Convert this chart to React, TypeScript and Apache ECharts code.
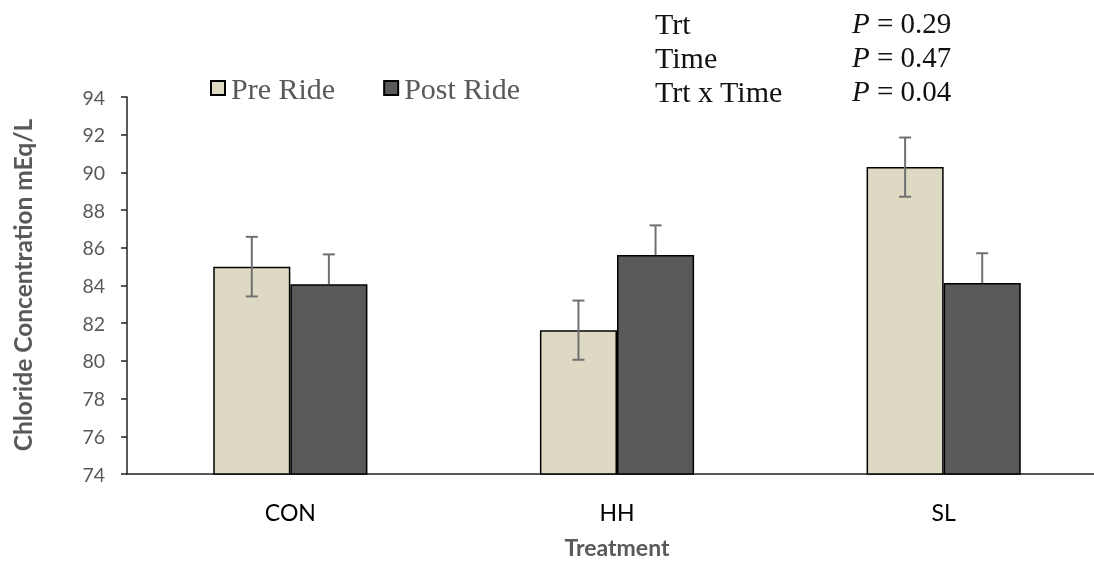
import React, { useEffect, useRef } from "react";
import * as echarts from "echarts";

const categories = ["CON", "HH", "SL"];
const preRide = [85.0, 81.63, 90.28];
const postRide = [84.07, 85.62, 84.13];
const preSE = [1.58, 1.57, 1.57];
const postSE = [1.58, 1.57, 1.58];
const statLabels = ["Trt", "Time", "Trt x Time"];
const statValues = ["0.29", "0.47", "0.04"];

const BAR_FRAC = 0.236;

export default function App() {
  const ref = useRef<HTMLDivElement>(null);
  useEffect(() => {
    if (!ref.current) return;
    const chart = echarts.init(ref.current, null, { renderer: "svg" });

    const errSeries = (vals: number[], se: number[], side: number, plusOnly: boolean, name: string) => ({
      type: "custom",
      name,
      z: 10,
      silent: true,
      data: vals.map((v, i) => [i, v, se[i]]),
      renderItem: (params: any, api: any) => {
        const idx = api.value(0);
        const v = api.value(1);
        const e = api.value(2);
        const band = api.size([1, 0])[0];
        const off = side * band * BAR_FRAC / 2;
        const top = api.coord([idx, v + e]);
        const bot = api.coord([idx, plusOnly ? v : v - e]);
        const x = top[0] + off;
        const cap = 6;
        const style = { stroke: "#707070", lineWidth: 2 };
        const children: any[] = [
          { type: "line", shape: { x1: x, y1: top[1], x2: x, y2: bot[1] }, style },
          { type: "line", shape: { x1: x - cap, y1: top[1], x2: x + cap, y2: top[1] }, style },
        ];
        if (!plusOnly) {
          children.push({ type: "line", shape: { x1: x - cap, y1: bot[1], x2: x + cap, y2: bot[1] }, style });
        }
        return { type: "group", children };
      },
    });

    const SERIF = "'Liberation Serif'";
    const statGraphics: any[] = [];
    statLabels.forEach((lab, i) => {
      const y = 23 + i * 34;
      statGraphics.push({
        type: "text",
        x: 655,
        y,
        style: { text: lab, font: "30px " + SERIF, fill: "#111", verticalAlign: "middle" },
      });
      statGraphics.push({
        type: "text",
        x: 852,
        y,
        style: {
          text: "{p|P} = " + statValues[i],
          font: "29px " + SERIF,
          fill: "#111",
          verticalAlign: "middle",
          rich: { p: { fontStyle: "italic", fontFamily: "Liberation Serif", fontSize: 29, fill: "#111" } },
        },
      });
    });

    chart.setOption({
      animation: false,
      grid: { left: 127, top: 97, bottom: 87, right: -13, containLabel: false, outerBoundsMode: "none" },
      legend: {
        data: ["Pre Ride", "Post Ride"],
        left: 205,
        top: 68,
        icon: "rect",
        itemWidth: 14,
        itemHeight: 14,
        itemGap: 48,
        textStyle: { fontFamily: "Liberation Serif", fontSize: 30, color: "#595959", padding: [0, 0, 0, 1] },
      },
      xAxis: {
        type: "category",
        data: categories,
        axisLine: { lineStyle: { color: "#222", width: 1.5 } },
        axisTick: { show: false },
        axisLabel: { fontFamily: "Lato", fontSize: 23, color: "#000", margin: 26 },
      },
      yAxis: {
        type: "value",
        min: 74,
        max: 94,
        interval: 2,
        splitLine: { show: false },
        axisLine: { show: true, lineStyle: { color: "#222", width: 1.5 } },
        axisTick: { show: true, length: 6, lineStyle: { color: "#222", width: 1.5 } },
        axisLabel: { fontFamily: "Lato", fontSize: 19.5, color: "#595959", margin: 22 },
      },
      graphic: [
        {
          type: "text",
          x: 22,
          y: 285,
          rotation: Math.PI / 2,
          style: {
            text: "Chloride Concentration mEq/L",
            font: "bold 24.5px Lato",
            fill: "#595959",
            align: "center",
            verticalAlign: "middle",
          },
        },
        {
          type: "text",
          x: 617,
          y: 547,
          style: {
            text: "Treatment",
            font: "bold 23px Lato",
            fill: "#595959",
            align: "center",
            verticalAlign: "middle",
          },
        },
        ...statGraphics,
      ],
      series: [
        {
          name: "Pre Ride",
          type: "bar",
          data: preRide,
          barWidth: (BAR_FRAC * 100) + "%",
          barGap: "0%",
          itemStyle: { color: "#DDD9C3", borderColor: "#000", borderWidth: 1.5 },
        },
        {
          name: "Post Ride",
          type: "bar",
          data: postRide,
          barWidth: (BAR_FRAC * 100) + "%",
          barGap: "0%",
          itemStyle: { color: "#595959", borderColor: "#000", borderWidth: 1.5 },
        },
        errSeries(preRide, preSE, -1, false, "preErr"),
        errSeries(postRide, postSE, 1, true, "postErr"),
      ],
    });
    return () => chart.dispose();
  }, []);
  return <div ref={ref} style={{ position: "fixed", left: 0, top: 0, width: 1094, height: 561 }} />;
}
